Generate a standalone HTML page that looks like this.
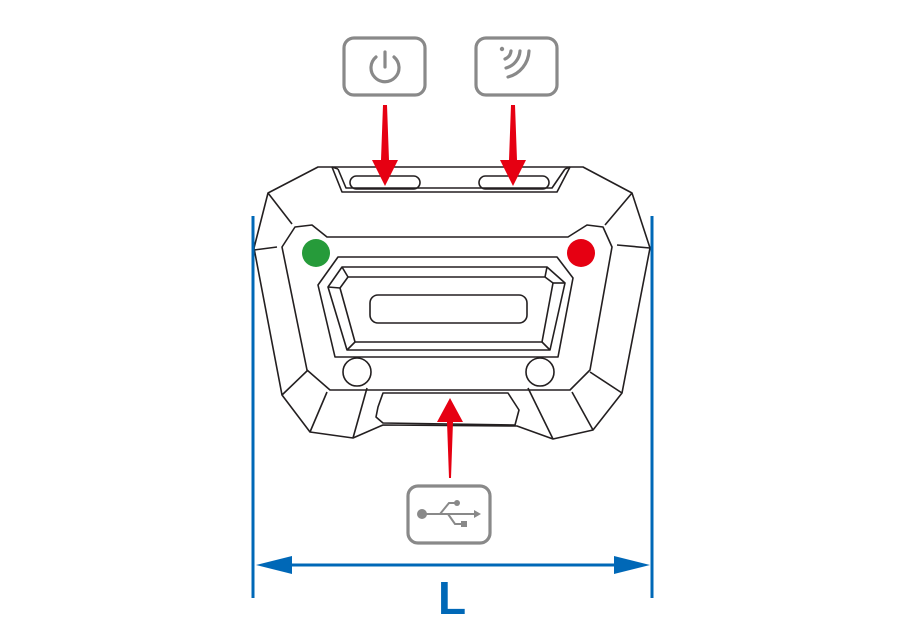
<!DOCTYPE html>
<html><head><meta charset="utf-8"><style>
html,body{margin:0;padding:0;background:#fff;width:900px;height:640px;overflow:hidden}
svg{display:block}
</style></head><body>
<svg width="900" height="640" viewBox="0 0 900 640" xmlns="http://www.w3.org/2000/svg">
<g fill="none" stroke="#231f20" stroke-width="1.6" stroke-linejoin="round">
<path d="M318,167 L583,167 L632,193 L650,248 L622,393 L593,430 L553,439 L517,426 L383,425 L353,438 L310,432 L282,395 L254,248 L268,193 Z" fill="#fff"/>
<path d="M332,167 L342,192 L557,192 L570,167"/>
<path d="M338,169 L346,188 L552,188 L565,169"/>
<line x1="332" y1="167" x2="338" y2="169"/><line x1="570" y1="167" x2="565" y2="169"/>
<rect x="350" y="176" width="70" height="13" rx="6.5"/>
<rect x="479" y="176" width="70" height="13" rx="6.5"/>
<path d="M282,247 L295,227 L312,225 L327,237 L568,237 L587,225 L603,227 L612,247 L590,370 L570,390 L330,390 L307,370 Z"/>
<line x1="268" y1="193" x2="292" y2="224"/>
<line x1="254" y1="250" x2="277" y2="247"/>
<line x1="282" y1="395" x2="308" y2="370"/>
<line x1="310" y1="432" x2="327" y2="392"/>
<line x1="353" y1="438" x2="367" y2="388"/>
<line x1="632" y1="193" x2="605" y2="225"/>
<line x1="650" y1="248" x2="617" y2="245"/>
<line x1="622" y1="393" x2="590" y2="372"/>
<line x1="593" y1="430" x2="572" y2="392"/>
<line x1="553" y1="439" x2="528" y2="388"/>
<path d="M338,257 L557,257 L573,278 L558,357 L335,357 L318,285 Z"/>
<path d="M342,267 L547,267 L565,283 L550,350 L347,350 L328,287 Z"/>
<path d="M348,277 L545,277 L553,283 L542,342 L355,342 L340,288 Z"/>
<line x1="342" y1="267" x2="348" y2="277"/><line x1="547" y1="267" x2="545" y2="277"/>
<line x1="565" y1="283" x2="553" y2="283"/><line x1="550" y1="350" x2="542" y2="342"/>
<line x1="347" y1="350" x2="355" y2="342"/><line x1="328" y1="287" x2="340" y2="288"/>
<rect x="370" y="295" width="157" height="28" rx="8"/>
<circle cx="357" cy="372" r="14"/>
<circle cx="540" cy="372" r="14"/>
<path d="M383,393 L508,393 L519,410 L515,425 L383,423 L376,417 L378,407 Z"/>
</g>
<circle cx="316" cy="253" r="14" fill="#269b3a"/>
<circle cx="581" cy="253" r="14" fill="#e60012"/>
<g fill="none" stroke="#898989" stroke-width="3.2" stroke-linecap="round">
<rect x="344" y="38" width="81" height="57" rx="10"/>
<rect x="476" y="38" width="81" height="57" rx="10"/>
<rect x="408" y="486" width="82" height="57" rx="10"/>
<path d="M376,57 A14,14 0 1 0 394,57"/>
<line x1="385" y1="52" x2="385" y2="67"/>
<path d="M511,51 A10,10 0 0 1 505,59"/>
<path d="M520,51 A19,19 0 0 1 506,68"/>
<path d="M529,51 A28,28 0 0 1 508,77"/>
</g>
<circle cx="502" cy="49" r="2.2" fill="#898989"/>
<g stroke="#898989" stroke-width="2" fill="#898989">
<circle cx="422" cy="514" r="5" stroke="none"/>
<line x1="424" y1="514" x2="474" y2="514"/>
<path d="M474,510 L481,514 L474,518 Z" stroke="none"/>
<path d="M440,514 L449,503 L455,503" fill="none"/>
<circle cx="457" cy="503" r="3" stroke="none"/>
<path d="M448,514 L455,524 L462,524" fill="none"/>
<rect x="461" y="521" width="6" height="6" stroke="none"/>
</g>
<g fill="#e60012">
<path d="M383,105 L387,105 L389,160 L398,160 L385,186 L372,160 L381,160 Z"/>
<path d="M511,105 L515,105 L517,160 L526,160 L513,186 L500,160 L509,160 Z"/>
<path d="M449,478 L451,478 L453,422 L463,422 L450,398 L437,422 L447,422 Z"/>
</g>
<g stroke="#0068b7" stroke-width="3">
<line x1="253" y1="216" x2="253" y2="598"/>
<line x1="652" y1="216" x2="652" y2="598"/>
<line x1="270" y1="565" x2="636" y2="565"/>
</g>
<path d="M256,565 L292,556 L292,574 Z" fill="#0068b7"/>
<path d="M650,565 L614,556 L614,574 Z" fill="#0068b7"/>
<text x="452" y="614" text-anchor="middle" font-family="Liberation Sans, sans-serif" font-weight="bold" font-size="46" fill="#0068b7">L</text>
</svg>
</body></html>
